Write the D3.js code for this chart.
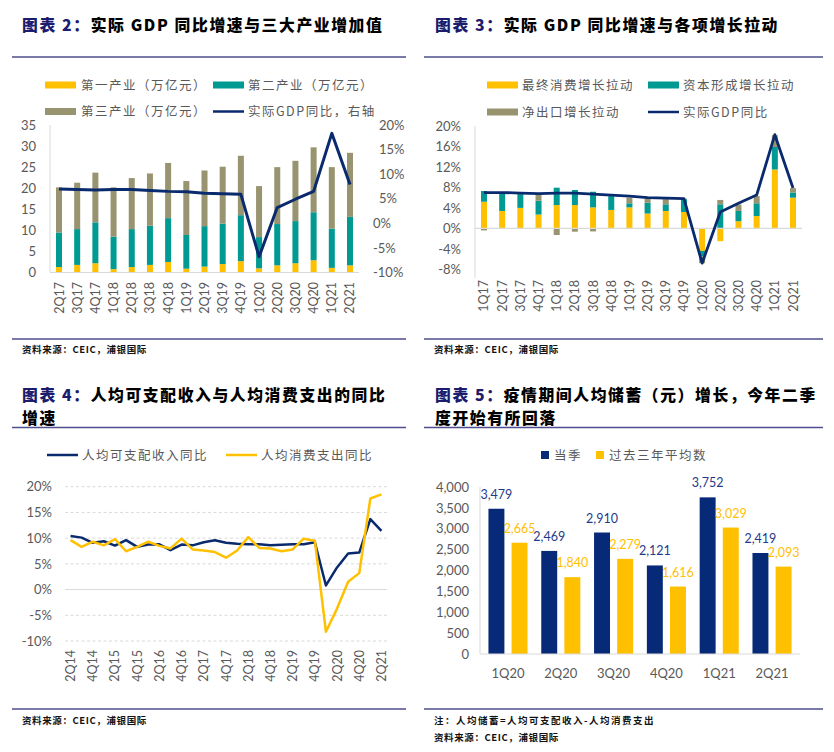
<!DOCTYPE html>
<html><head><meta charset="utf-8">
<script src="https://cdn.jsdelivr.net/npm/d3@7"></script>
<style>
html,body{margin:0;padding:0;background:#fff;}
svg{display:block;}
</style></head>
<body>
<svg id="chart" width="834" height="752"></svg>
<script>
// ---------- DATA ----------
// Chart 2
const p1Quarters = ["2Q17","3Q17","4Q17","1Q18","2Q18","3Q18","4Q18","1Q19","2Q19","3Q19","4Q19","1Q20","2Q20","3Q20","4Q20","1Q21","2Q21"];
const p1Primary   = [1.3,1.8,2.2,0.8,1.3,1.8,2.5,0.9,1.4,2.0,2.7,1.0,1.7,2.2,2.9,1.1,1.7];
const p1Secondary = [8.2,8.5,9.7,7.7,9.0,9.3,10.4,8.0,9.6,9.6,10.9,7.4,9.8,10.0,11.4,9.3,11.5];
const p1Tertiary  = [10.7,11.0,11.8,11.7,12.1,12.4,13.1,12.8,13.2,13.5,14.1,12.1,13.5,14.3,15.4,14.6,15.2];
const p1Gdp       = [7.0,6.9,6.8,6.9,6.9,6.7,6.5,6.4,6.1,6.0,5.9,-6.8,3.2,4.9,6.5,18.3,7.9];
const p1LeftTicks  = [0,5,10,15,20,25,30,35];
const p1RightTicks = [-10,-5,0,5,10,15,20];

// Chart 3
const p2Quarters = ["1Q17","2Q17","3Q17","4Q17","1Q18","2Q18","3Q18","4Q18","1Q19","2Q19","3Q19","4Q19","1Q20","2Q20","3Q20","4Q20","1Q21","2Q21"];
const p2Consumption = [5.2,3.4,4.0,2.7,4.55,4.55,4.1,3.6,4.1,2.9,3.4,3.2,-4.4,-2.5,1.4,2.4,11.5,6.0];
const p2Capital     = [2.1,3.4,2.7,2.7,3.4,2.95,3.05,2.7,0.8,2.1,1.3,2.5,-1.1,4.7,2.0,2.5,4.4,1.0];
const p2NetExport   = [-0.4,0.1,0.1,1.2,-1.3,-0.65,-0.6,0.1,1.1,0.85,1.0,0.1,-1.3,0.85,1.25,1.4,2.3,0.85];
const p2Gdp         = [7.0,7.0,6.9,6.8,6.9,6.9,6.7,6.5,6.3,6.0,5.9,5.8,-6.8,3.2,4.9,6.5,18.3,7.9];
const p2Ticks = [-8,-4,0,4,8,12,16,20];

// Chart 4
const p3Quarters = ["2Q14","3Q14","4Q14","1Q15","2Q15","3Q15","4Q15","1Q16","2Q16","3Q16","4Q16","1Q17","2Q17","3Q17","4Q17","1Q18","2Q18","3Q18","4Q18","1Q19","2Q19","3Q19","4Q19","1Q20","2Q20","3Q20","4Q20","1Q21","2Q21"];
const p3Income  = [10.4,10.1,9.1,9.4,8.55,9.6,8.3,8.75,8.8,7.65,8.75,8.6,9.2,9.6,9.1,8.9,8.8,8.8,8.6,8.7,8.8,8.8,9.2,0.8,4.3,7.0,7.2,13.7,11.4];
const p3Consume = [9.6,8.3,9.3,8.6,9.8,7.45,8.3,9.3,8.5,8.0,9.9,7.8,7.6,7.3,6.2,7.6,10.2,8.1,8.0,7.45,7.8,9.9,9.5,-8.2,-3.7,1.5,3.2,17.7,18.5];
const p3Ticks = [-10,-5,0,5,10,15,20];

// Chart 5
const p4Quarters = ["1Q20","2Q20","3Q20","4Q20","1Q21","2Q21"];
const p4Current  = [3479,2469,2910,2121,3752,2419];
const p4Average  = [2665,1840,2279,1616,3029,2093];
const p4Ticks = [0,500,1000,1500,2000,2500,3000,3500,4000];

// ---------- STYLE ----------
const C = {
  yellow:"#FFC000", teal:"#009A93", olive:"#98946F", navy:"#0A2A6E",
  barNavy:"#062A78", title:"#1C1C6E", rule:"#4E4E8E", text:"#595959", grid:"#D9D9D9"
};
const NUM = "Lato, 'Noto Sans CJK SC', sans-serif";
const CJK = "'Noto Sans CJK SC', sans-serif";

const svg = d3.select("#chart");
svg.append("rect").attr("width",834).attr("height",752).attr("fill","#fff");

function title(x, lines, label){
  lines.forEach((ln,i)=>{
    const t = svg.append("text").attr("x",x).attr("y",ln.y)
      .attr("font-family",CJK).attr("font-weight",900).attr("font-size",15.8)
      .attr("letter-spacing",1.6).attr("fill","#000");
    if(i===0) t.append("tspan").attr("fill",C.title).text(label);
    t.append("tspan").text(ln.text);
  });
}
function rule(x1,x2,y){
  svg.append("line").attr("x1",x1).attr("x2",x2).attr("y1",y).attr("y2",y)
    .attr("stroke",C.rule).attr("stroke-width",1.3);
}
function smallNote(x,y,txt,ls){
  svg.append("text").attr("x",x).attr("y",y).attr("font-family",CJK).attr("font-weight",700)
    .attr("font-size",9.5).attr("letter-spacing",ls).attr("fill","#111").text(txt);
}
function legendText(x,y,txt){
  svg.append("text").attr("x",x).attr("y",y).attr("dy","0.36em").attr("font-family",CJK)
    .attr("font-size",12.5).attr("letter-spacing",1.5).attr("fill",C.text).text(txt);
}
function swatch(x,y,color){
  svg.append("rect").attr("x",x).attr("y",y-3.5).attr("width",31).attr("height",7).attr("fill",color);
}
function lineSwatch(x,y,color){
  svg.append("line").attr("x1",x).attr("x2",x+31).attr("y1",y).attr("y2",y)
    .attr("stroke",color).attr("stroke-width",2.5);
}
function rotLabels(g, scale, labels, yTop, offset){
  g.selectAll("text.xl").data(labels).join("text").attr("class","xl")
    .attr("transform",d=>`translate(${scale(d)+offset},${yTop}) rotate(-90)`)
    .attr("text-anchor","end").attr("dy","0.36em")
    .attr("font-family",NUM).attr("font-size",12.5).attr("fill",C.text).text(d=>d);
}

// ================= PANEL 1 =================
(function(){
  title(22,[{y:31,text:"实际 GDP 同比增速与三大产业增加值"}],"图表 2：");
  rule(12,406,57);
  swatch(45,85,C.yellow); legendText(81,85,"第一产业（万亿元）");
  swatch(213,85,C.teal); legendText(248,85,"第二产业（万亿元）");
  swatch(45,111.5,C.olive); legendText(81,111.5,"第三产业（万亿元）");
  lineSwatch(213,111.5,C.navy); legendText(248,111.5,"实际GDP同比，右轴");

  const g = svg.append("g");
  const x = d3.scaleBand().domain(p1Quarters).range([50,359]).paddingInner(0.67).paddingOuter(0.33);
  const y = d3.scaleLinear().domain([0,35]).range([272.5,125]);
  const yr = d3.scaleLinear().domain([-10,20]).range([272.5,125]);

  const rows = p1Quarters.map((q,i)=>({q, a:p1Primary[i], b:p1Secondary[i], c:p1Tertiary[i]}));
  const stack = d3.stack().keys(["a","b","c"])(rows);
  const cols = [C.yellow,C.teal,C.olive];
  g.selectAll("g.s").data(stack).join("g").attr("fill",(d,i)=>cols[i])
    .selectAll("rect").data(d=>d).join("rect")
    .attr("x",d=>x(d.data.q)).attr("width",x.bandwidth())
    .attr("y",d=>y(d[1])).attr("height",d=>y(d[0])-y(d[1]));

  g.append("line").attr("x1",50).attr("x2",50).attr("y1",125).attr("y2",272.5).attr("stroke",C.grid);
  g.append("line").attr("x1",50).attr("x2",359).attr("y1",272.5).attr("y2",272.5).attr("stroke",C.grid);

  const line = d3.line().x((d,i)=>x(p1Quarters[i])+x.bandwidth()/2).y(d=>yr(d));
  g.append("path").datum(p1Gdp).attr("d",line).attr("fill","none")
    .attr("stroke",C.navy).attr("stroke-width",3).attr("stroke-linejoin","round");

  g.selectAll("text.yl").data(p1LeftTicks).join("text").attr("class","yl")
    .attr("x",36).attr("y",d=>y(d)).attr("dy","0.36em").attr("text-anchor","end")
    .attr("font-family",NUM).attr("font-size",13).attr("fill",C.text).text(d=>d);
  g.selectAll("text.yr").data(p1RightTicks).join("text").attr("class","yr")
    .attr("x",d=>d>0?379:373).attr("y",d=>yr(d)).attr("dy","0.36em").attr("text-anchor","start")
    .attr("font-family",NUM).attr("font-size",13).attr("fill",C.text).text(d=>d+"%");
  rotLabels(g,x,p1Quarters,282,x.bandwidth()/2);

  rule(12,406,339);
  smallNote(22,352.5,"资料来源：CEIC，浦银国际",0.6);
})();

// ================= PANEL 2 =================
(function(){
  title(435,[{y:31,text:"实际 GDP 同比增速与各项增长拉动"}],"图表 3：");
  rule(424,823,57);
  swatch(487,85,C.yellow); legendText(522,85,"最终消费增长拉动");
  swatch(648,85,C.teal); legendText(683,85,"资本形成增长拉动");
  swatch(487,112,C.olive); legendText(522,112,"净出口增长拉动");
  lineSwatch(648,112,C.navy); legendText(683,112,"实际GDP同比");

  const g = svg.append("g");
  const x = d3.scaleBand().domain(p2Quarters).range([475,802]).paddingInner(0.67).paddingOuter(0.33);
  const y = d3.scaleLinear().domain([-8,20]).range([269.3,126]);
  const rows = p2Quarters.map((q,i)=>({q, a:p2Consumption[i], b:p2Capital[i], c:p2NetExport[i]}));
  const stack = d3.stack().keys(["a","b","c"]).offset(d3.stackOffsetDiverging)(rows);
  const cols = [C.yellow,C.teal,C.olive];
  g.selectAll("g.s").data(stack).join("g").attr("fill",(d,i)=>cols[i])
    .selectAll("rect").data(d=>d).join("rect")
    .attr("x",d=>x(d.data.q)).attr("width",x.bandwidth())
    .attr("y",d=>y(Math.max(d[0],d[1]))).attr("height",d=>Math.abs(y(d[0])-y(d[1])));

  g.append("line").attr("x1",475).attr("x2",475).attr("y1",126).attr("y2",278).attr("stroke",C.grid);
  g.append("line").attr("x1",475).attr("x2",802).attr("y1",y(0)).attr("y2",y(0)).attr("stroke",C.grid).attr("stroke-width",1.3);

  const line = d3.line().x((d,i)=>x(p2Quarters[i])+x.bandwidth()/2).y(d=>y(d));
  g.append("path").datum(p2Gdp).attr("d",line).attr("fill","none")
    .attr("stroke",C.navy).attr("stroke-width",2.8).attr("stroke-linejoin","round");

  g.selectAll("text.yl").data(p2Ticks).join("text").attr("class","yl")
    .attr("x",461).attr("y",d=>y(d)).attr("dy","0.36em").attr("text-anchor","end")
    .attr("font-family",NUM).attr("font-size",13).attr("fill",C.text).text(d=>d+"%");
  rotLabels(g,x,p2Quarters,280,x.bandwidth()/2);

  rule(424,823,339);
  smallNote(434,352.5,"资料来源：CEIC，浦银国际",0.6);
})();

// ================= PANEL 3 =================
(function(){
  title(22,[{y:400.5,text:"人均可支配收入与人均消费支出的同比"},{y:423.5,text:"增速"}],"图表 4：");
  rule(12,406,427.5);
  lineSwatch(47,455,C.navy); legendText(82,455,"人均可支配收入同比");
  lineSwatch(226,455,C.yellow); legendText(261,455,"人均消费支出同比");

  const g = svg.append("g");
  const x = d3.scalePoint().domain(p3Quarters).range([65,387]).padding(0.5);
  const y = d3.scaleLinear().domain([-10,20]).range([641,486.7]);
  g.selectAll("line.gr").data(p3Ticks).join("line").attr("class","gr")
    .attr("x1",65).attr("x2",387).attr("y1",d=>y(d)).attr("y2",d=>y(d))
    .attr("stroke",C.grid).attr("stroke-width",1)
    .attr("stroke-dasharray",d=>d===0?null:"3,2.5");
  g.selectAll("text.yl").data(p3Ticks).join("text").attr("class","yl")
    .attr("x",52).attr("y",d=>y(d)).attr("dy","0.36em").attr("text-anchor","end")
    .attr("font-family",NUM).attr("font-size",13).attr("fill",C.text).text(d=>d+"%");

  const line = d3.line().x((d,i)=>x(p3Quarters[i])).y(d=>y(d));
  g.append("path").datum(p3Income).attr("d",line).attr("fill","none")
    .attr("stroke",C.navy).attr("stroke-width",2.5).attr("stroke-linejoin","round");
  g.append("path").datum(p3Consume).attr("d",line).attr("fill","none")
    .attr("stroke",C.yellow).attr("stroke-width",2.5).attr("stroke-linejoin","round");

  rotLabels(g,x,p3Quarters.filter((d,i)=>i%2===0),650,0);

  rule(12,406,709);
  smallNote(22,723.5,"资料来源：CEIC，浦银国际",0.6);
})();

// ================= PANEL 4 =================
(function(){
  title(435,[{y:400.5,text:"疫情期间人均储蓄（元）增长，今年二季"},{y:423.5,text:"度开始有所回落"}],"图表 5：");
  rule(424,823,427.5);
  svg.append("rect").attr("x",541).attr("y",451).attr("width",8).attr("height",8).attr("fill",C.barNavy);
  legendText(554,455,"当季");
  svg.append("rect").attr("x",596).attr("y",451).attr("width",8).attr("height",8).attr("fill",C.yellow);
  legendText(609,455,"过去三年平均数");

  const g = svg.append("g");
  const x0 = d3.scaleBand().domain(p4Quarters).range([480,800]).paddingInner(0.26).paddingOuter(0.16);
  const x1 = d3.scaleBand().domain(["cur","avg"]).range([0,x0.bandwidth()]).paddingInner(0.31);
  const y = d3.scaleLinear().domain([0,4000]).range([654,487]);
  const rows = p4Quarters.map((q,i)=>[{q,k:"cur",v:p4Current[i]},{q,k:"avg",v:p4Average[i]}]).flat();
  const col = {cur:C.barNavy, avg:C.yellow};
  const lcol = {cur:"#1F3A8A", avg:C.yellow};
  g.selectAll("rect.b").data(rows).join("rect").attr("class","b")
    .attr("x",d=>x0(d.q)+x1(d.k)).attr("width",x1.bandwidth())
    .attr("y",d=>y(d.v)).attr("height",d=>y(0)-y(d.v)).attr("fill",d=>col[d.k]);
  g.selectAll("text.v").data(rows).join("text").attr("class","v")
    .attr("x",d=>x0(d.q)+x1(d.k)+x1.bandwidth()/2).attr("y",d=>y(d.v)-10)
    .attr("text-anchor","middle").attr("font-family",NUM).attr("font-size",12.5)
    .attr("fill",d=>lcol[d.k]).text(d=>d3.format(",")(d.v));

  g.append("line").attr("x1",480).attr("x2",480).attr("y1",487).attr("y2",654).attr("stroke",C.grid);
  g.append("line").attr("x1",480).attr("x2",800).attr("y1",654).attr("y2",654).attr("stroke",C.grid);

  g.selectAll("text.yl").data(p4Ticks).join("text").attr("class","yl")
    .attr("x",469).attr("y",d=>y(d)).attr("dy","0.36em").attr("text-anchor","end")
    .attr("font-family",NUM).attr("font-size",13).attr("fill",C.text).text(d=>d3.format(",")(d));
  g.selectAll("text.xl").data(p4Quarters).join("text").attr("class","xl")
    .attr("x",d=>x0(d)+x0.bandwidth()/2).attr("y",673).attr("dy","0.36em").attr("text-anchor","middle")
    .attr("font-family",NUM).attr("font-size",13).attr("fill",C.text).text(d=>d);

  rule(424,823,709);
  smallNote(434,724,"注：人均储蓄=人均可支配收入-人均消费支出",1.5);
  smallNote(434,740.5,"资料来源：CEIC，浦银国际",0.6);
})();
</script>
</body></html>
